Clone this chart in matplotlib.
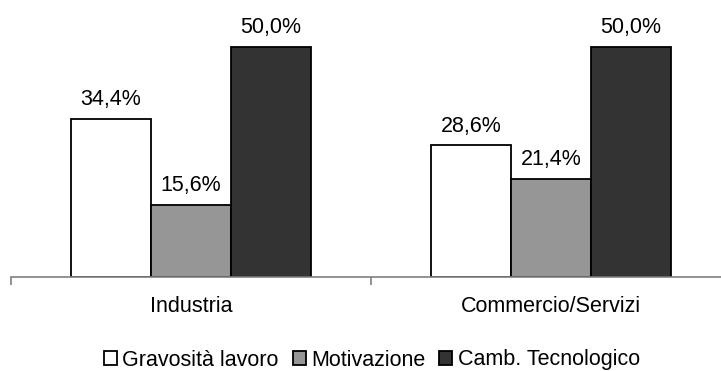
import matplotlib
matplotlib.use("Agg")
import matplotlib.pyplot as plt
import numpy as np

categories = ["Industria", "Commercio/Servizi"]
series_names = ["Gravosità lavoro", "Motivazione", "Camb. Tecnologico"]
values = {
    "Gravosità lavoro": [34.4, 28.6],
    "Motivazione": [15.6, 21.4],
    "Camb. Tecnologico": [50.0, 50.0],
}
colors = ["#ffffff", "#969696", "#333333"]

plt.rcParams['font.family'] = ['Liberation Sans', 'DejaVu Sans']
FS = 15.5

fig = plt.figure(figsize=(7.21, 3.71), dpi=100)
ax = fig.add_axes([11/721, 94/371, 720/721, 276/371])

x = np.arange(len(categories))
w = 80/360
for i, name in enumerate(series_names):
    vals = values[name]
    bars = ax.bar(x + (i - 1) * w, vals, width=w, color=colors[i],
                  edgecolor="black", linewidth=1.3, label=name)
    for b, v in zip(bars, vals):
        ax.text(b.get_x() + b.get_width()/2, v + 3.0, f"{v:.1f}".replace(".", ",") + "%",
                ha="center", va="baseline", fontsize=FS)

ax.set_xlim(-0.5, 1.5)
ax.set_ylim(0, 60)
for s in ["top", "right", "left"]:
    ax.spines[s].set_visible(False)
ax.spines["bottom"].set_color("#808080")
ax.spines["bottom"].set_linewidth(1.2)
ax.set_yticks([])
ax.set_xticks([-0.5, 0.5, 1.5])
ax.set_xticklabels([])
ax.tick_params(axis="x", which="major", length=6, color="#808080", width=1.2, direction="out")
ax.set_xticks(x, minor=True)
ax.set_xticklabels(categories, minor=True, fontsize=FS)
ax.tick_params(axis="x", which="minor", length=0, pad=13.5)

fig.legend(loc="center", bbox_to_anchor=(372/721, 1 - 360/371), ncol=3, frameon=False,
           fontsize=FS, handlelength=0.6, handleheight=0.6, handletextpad=0.25,
           columnspacing=0.65, borderpad=0)

fig.savefig("out.png", dpi=100)
